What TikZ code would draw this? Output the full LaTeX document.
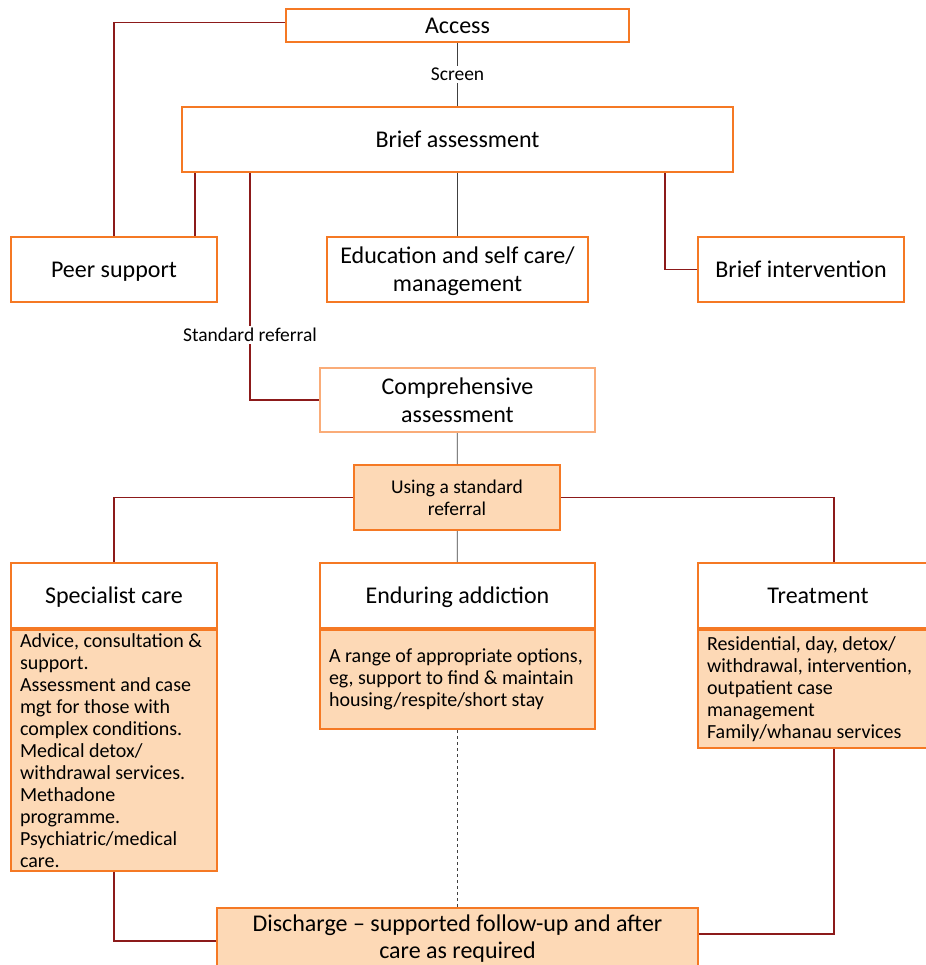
\documentclass[tikz,border=0pt]{standalone}
\usepackage{fontspec}
\setmainfont{Carlito}
\usepackage{tikz}
\usetikzlibrary{positioning}
\definecolor{boxorange}{RGB}{245,121,36}
\definecolor{lightorange}{RGB}{250,172,120}
\definecolor{peach}{RGB}{253,217,182}
\definecolor{linkred}{RGB}{140,26,26}

\begin{document}
\begin{tikzpicture}[
    x=1pt, y=-1pt,
    stage/.style={rectangle, draw=boxorange, line width=2pt, fill=white, align=center, inner sep=0pt, text depth=0pt, font=\fontsize{24}{28}\selectfont},
    stagefill/.style={stage, fill=peach},
    detail/.style={rectangle, draw=boxorange, line width=2pt, fill=peach, align=flush left, inner xsep=9pt, inner ysep=0pt, font=\fontsize{20}{22}\selectfont},
    tag/.style={fill=white, inner sep=2pt, font=\fontsize{19.5}{22}\selectfont},
    link/.style={draw=linkred, line width=1.1pt},
    plainlink/.style={draw=black!75, line width=0.8pt}
]
\useasboundingbox (0,0) rectangle (925,965);

% Entry
\node[stage, minimum width=343pt, minimum height=33pt] (access) at (457.5,25.5) {Access};
\node[stage, minimum width=551pt, minimum height=65pt] (brief) at (457.5,139.5) {Brief assessment};

% First options
\node[stage, minimum width=206pt, minimum height=65pt] (peer) at (114,269.5) {Peer support};
\node[stage, minimum width=261pt, minimum height=65pt] (edu) at (457.5,269.5) {Education and self care/\\management};
\node[stage, minimum width=206pt, minimum height=65pt] (bint) at (801,269.5) {Brief intervention};

% Comprehensive assessment and referral
\node[stage, draw=lightorange, minimum width=275pt, minimum height=64pt] (comp) at (457.5,400) {Comprehensive\\assessment};
\node[stagefill, minimum width=206pt, minimum height=65pt, font=\fontsize{19.5}{22}\selectfont] (referral) at (457,497.5) {Using a standard\\referral};

% Services
\node[stage, minimum width=206pt, minimum height=65pt] (spec) at (114,595.5) {Specialist care};
\node[detail, below=0pt of spec, text width=188pt, minimum height=241pt] (specbody) {Advice, consultation \&\\support.\\Assessment and case\\mgt for those with\\complex conditions.\\Medical detox/\\withdrawal services.\\Methadone\\programme.\\Psychiatric/medical\\care.};

\node[stage, minimum width=275pt, minimum height=65pt] (enduring) at (457.5,595.5) {Enduring addiction};
\node[detail, below=0pt of enduring, text width=257pt, minimum height=99pt] (endbody) {A range of appropriate options,\\eg, support to find \& maintain\\housing/respite/short stay};

\node[stage, minimum width=240pt, minimum height=65pt] (treat) at (818,595.5) {Treatment};
\node[detail, below=0pt of treat, text width=222pt, minimum height=118pt] (treatbody) {Residential, day, detox/\\withdrawal, intervention,\\outpatient case\\management\\Family/whanau services};

% Exit
\node[stagefill, minimum width=481pt, minimum height=58pt, font=\fontsize{24}{27}\selectfont] (discharge) at (457.5,937) {Discharge -- supported follow-up and after\\care as required};

% Join points
\coordinate (peerjoin) at ([xshift=-23pt]peer.north east);
\coordinate (refjoin) at ([xshift=69pt]brief.south west);
\coordinate (bintjoin) at ([xshift=-69pt]brief.south east);
\coordinate (treatjoin) at ([xshift=137pt]treat.north west);

% Connectors
\draw[plainlink] (access) -- node[tag] {Screen} (brief);
\draw[link] ([yshift=3pt]access.west) -| (peer.north);
\draw[link] (peerjoin) -- (peerjoin |- brief.south);
\draw[plainlink] (brief.south) -- (edu.north);
\draw[link] (bintjoin) |- (bint.west);
\draw[link] (refjoin) |- node[tag, pos=0.357] {Standard referral} (comp.west);
\draw[plainlink] (comp) -- (referral);
\draw[plainlink] (referral) -- (enduring);
\draw[link] (referral.west) -| (spec.north);
\draw[link] (referral.east) -| (treatjoin);
\draw[link] (specbody.south) |- ([yshift=-4pt]discharge.west);
\draw[link] (treatjoin |- treatbody.south) |- ([yshift=3pt]discharge.east);
\draw[plainlink, dashed] (endbody.south) -- (discharge.north);

\end{tikzpicture}
\end{document}
